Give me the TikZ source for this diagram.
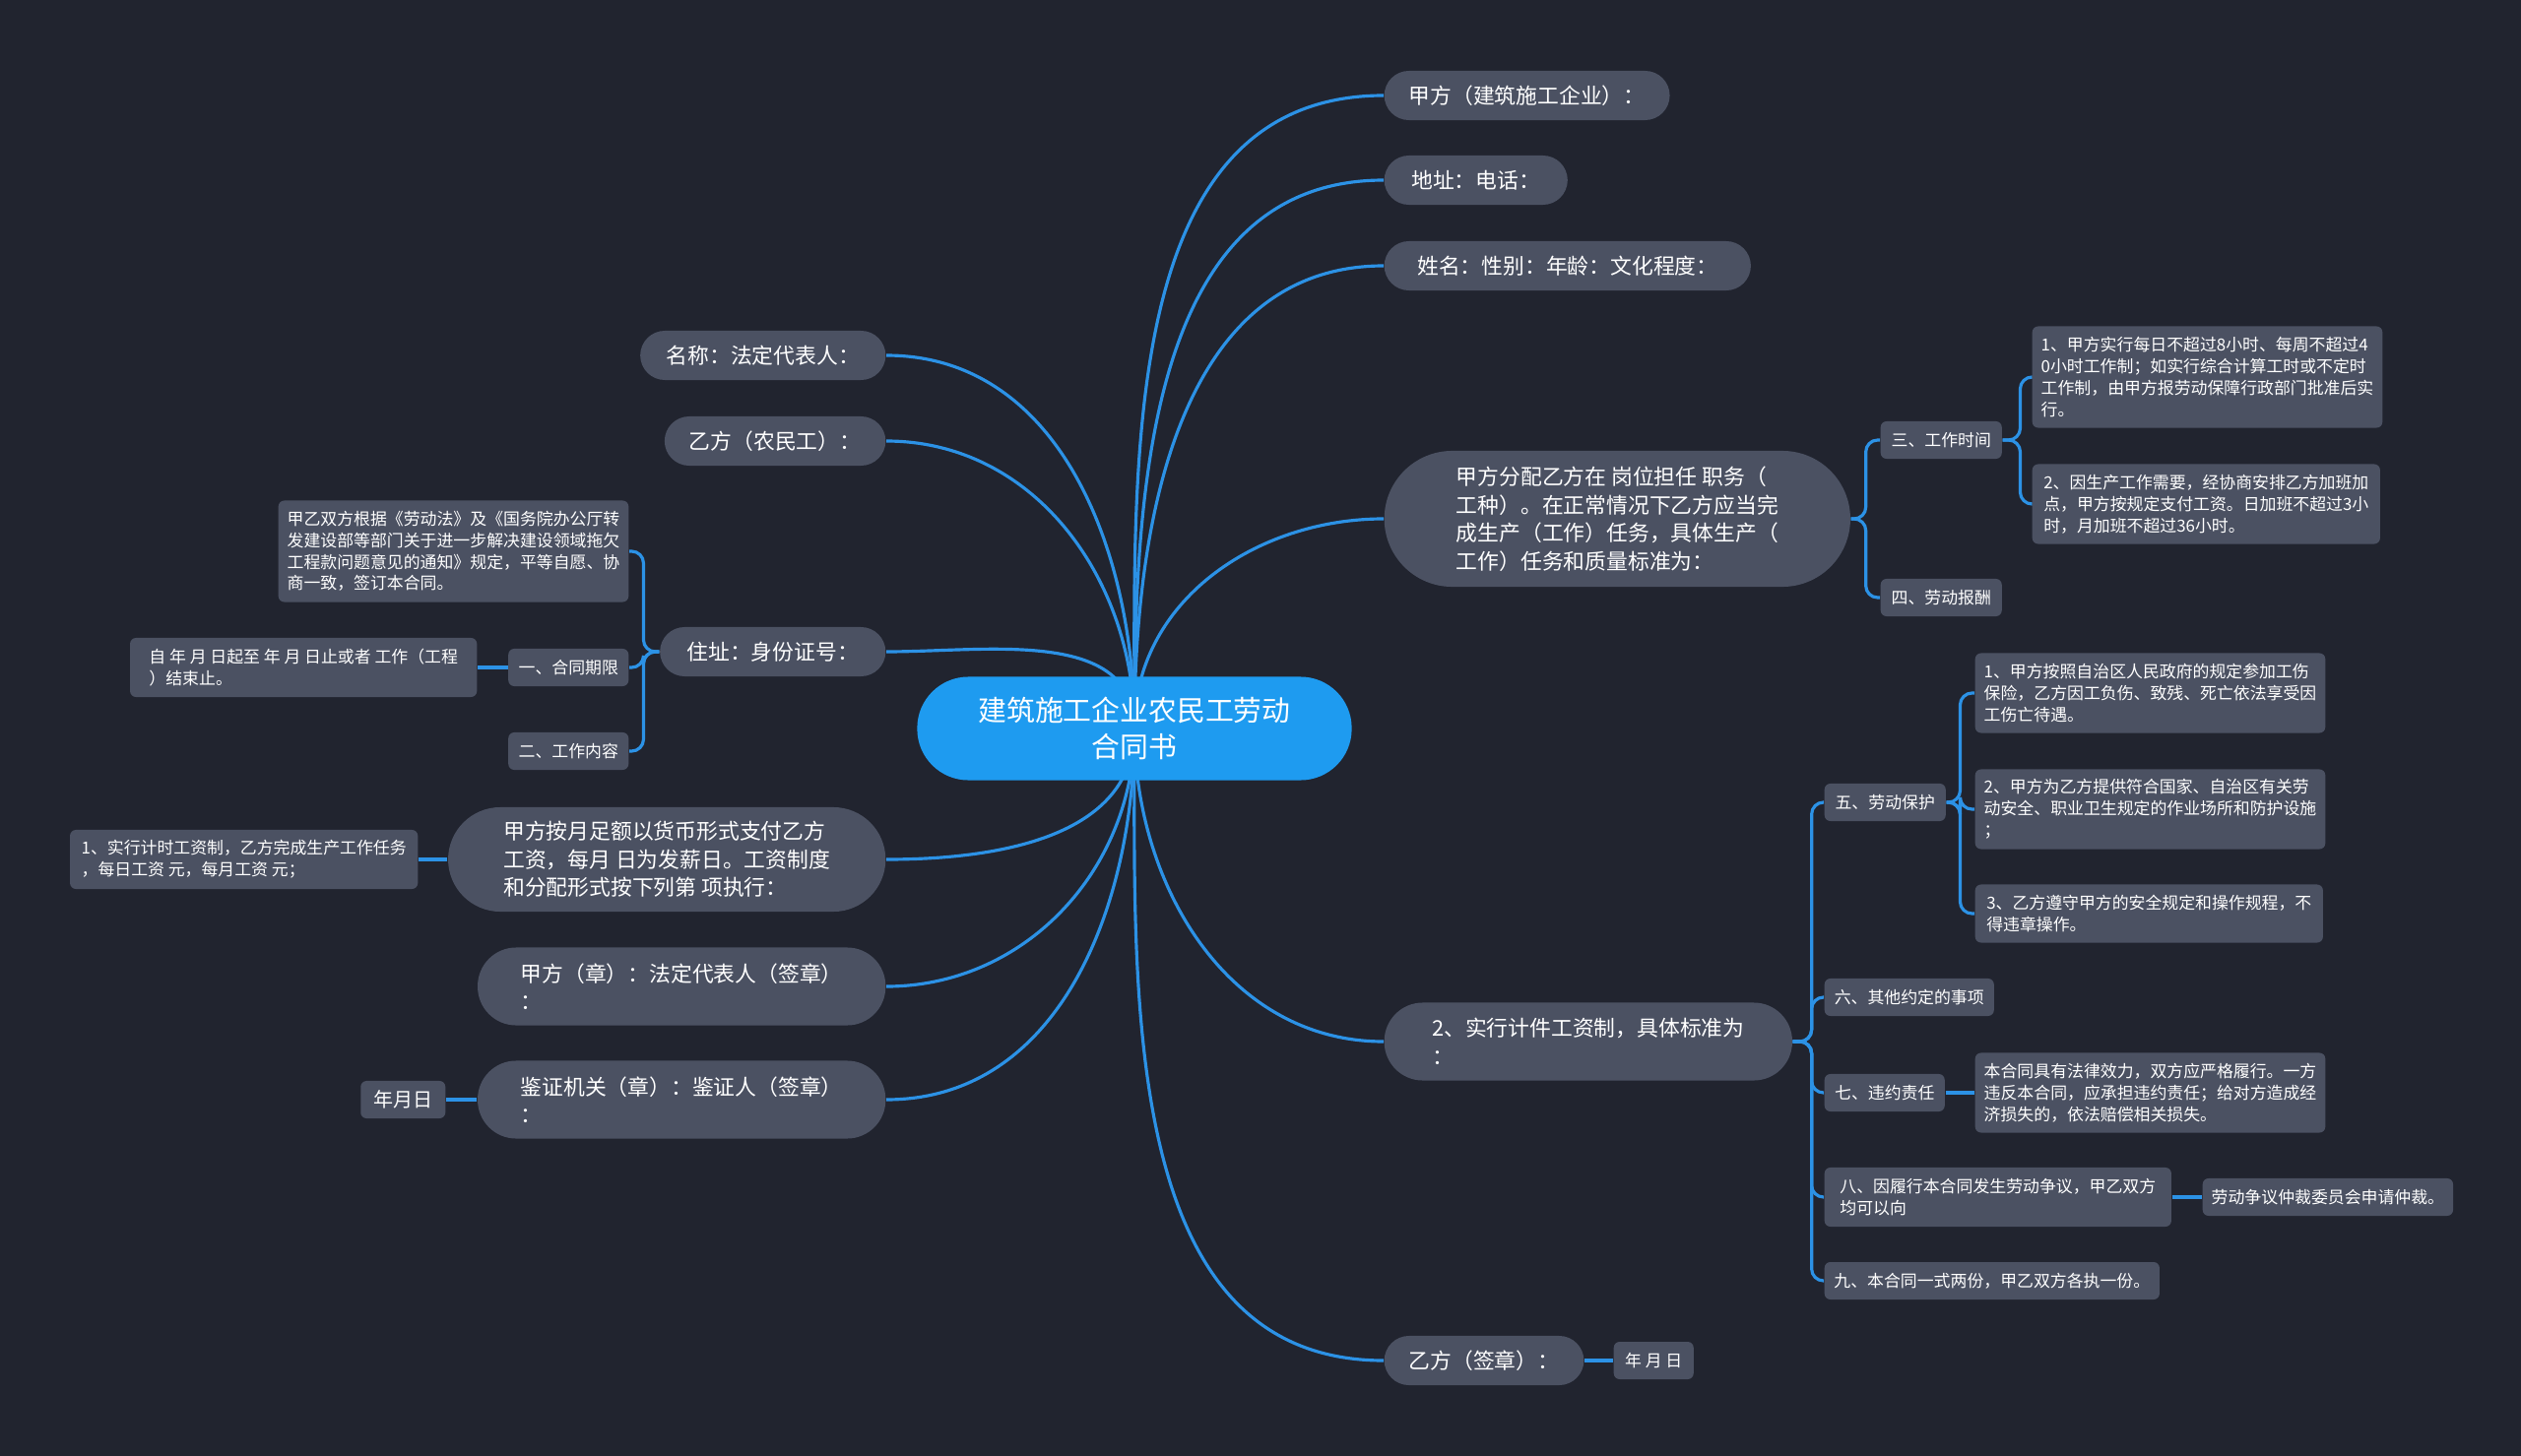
\documentclass[tikz,border=0pt]{standalone}
\usepackage{fontspec}
\usepackage{tikz}
\usetikzlibrary{
  positioning,
  backgrounds
}
\newfontfamily\cjk{Noto Sans CJK SC}
\definecolor{mapBG}{HTML}{21242F}
\definecolor{mapNode}{HTML}{4B5162}
\definecolor{mapRoot}{HTML}{1E9BF0}
\definecolor{mapLink}{HTML}{2C92E6}

\tikzset{
  rootbox/.style={fill=mapRoot, text=white, rounded corners=0.52cm, align=center,
    font=\cjk\fontsize{8.2}{10.4}\selectfont, minimum width=4.41cm, minimum height=1.05cm, inner sep=0pt},
  topicbox/.style={fill=mapNode, text=white, rounded corners=0.25cm, align=left,
    font=\cjk\fontsize{6.2}{8.1}\selectfont, minimum height=0.5cm, inner xsep=0.25cm, inner ysep=0pt},
  itembox/.style={fill=mapNode, text=white, rounded corners=0.06cm, align=left,
    font=\cjk\fontsize{4.8}{6.2}\selectfont, minimum height=0.38cm, inner xsep=0.09cm, inner ysep=0pt},
  maplink/.style={draw=mapLink, line width=0.9pt},
  mapbranch/.style={maplink, rounded corners=0.12cm}
}

\begin{document}
\begin{tikzpicture}[x=0.01cm, y=-0.01cm]
  \useasboundingbox (0,0) rectangle (2560,1479);
  \begin{pgfonlayer}{background}
    \fill[mapBG] (0,0) rectangle (2560,1479);
  \end{pgfonlayer}

  % root
  \node[rootbox] (root) at (1152,740) {建筑施工企业农民工劳动\\合同书};

  % right topics
  \node[topicbox, anchor=west, minimum width=2.87cm] (jia) at (1405,97) {甲方（建筑施工企业）：};
  \node[topicbox, anchor=west, minimum width=1.86cm] (addr) at (1405,183) {地址：电话：};
  \node[topicbox, anchor=west, minimum width=3.72cm] (info) at (1405,270) {姓名：性别：年龄：文化程度：};
  \node[topicbox, anchor=west, minimum width=4.73cm, minimum height=1.38cm, rounded corners=0.69cm] (post) at (1405,527)
    {甲方分配乙方在 岗位担任 职务（\\工种）。在正常情况下乙方应当完\\成生产（工作）任务，具体生产（\\工作）任务和质量标准为：};
  \node[topicbox, anchor=west, minimum width=4.14cm, minimum height=0.79cm, rounded corners=0.39cm] (piece) at (1405,1058)
    {2、实行计件工资制，具体标准为\\：};
  \node[topicbox, anchor=west, minimum width=2.01cm] (yisign) at (1405,1382) {乙方（签章）：};

  % left topics
  \node[topicbox, anchor=east, minimum width=2.49cm] (name) at (900,361) {名称：法定代表人：};
  \node[topicbox, anchor=east, minimum width=2.21cm] (yi) at (900,448) {乙方（农民工）：};
  \node[topicbox, anchor=east, minimum width=2.29cm] (home) at (900,662) {住址：身份证号：};
  \node[topicbox, anchor=east, minimum width=4.44cm, minimum height=1.06cm, rounded corners=0.53cm] (wage) at (900,873)
    {甲方按月足额以货币形式支付乙方\\工资，每月 日为发薪日。工资制度\\和分配形式按下列第 项执行：};
  \node[topicbox, anchor=east, minimum width=4.14cm, minimum height=0.79cm, rounded corners=0.39cm] (jiaseal) at (900,1002)
    {甲方（章）：法定代表人（签章）\\：};
  \node[topicbox, anchor=east, minimum width=4.14cm, minimum height=0.79cm, rounded corners=0.39cm] (verify) at (900,1117)
    {鉴证机关（章）：鉴证人（签章）\\：};

  % right items
  \node[itembox, anchor=west, minimum width=1.23cm] (hours) at (1909,447) {三、工作时间};
  \node[itembox, anchor=west, minimum width=1.23cm] (pay) at (1909,607) {四、劳动报酬};
  \node[itembox, anchor=west, minimum width=3.53cm, minimum height=1.03cm] (hoursA) at (2063,383)
    {1、甲方实行每日不超过8小时、每周不超过4\\0小时工作制；如实行综合计算工时或不定时\\工作制，由甲方报劳动保障行政部门批准后实\\行。};
  \node[itembox, anchor=west, minimum width=3.53cm, minimum height=0.81cm] (hoursB) at (2063,512)
    {2、因生产工作需要，经协商安排乙方加班加\\点，甲方按规定支付工资。日加班不超过3小\\时，月加班不超过36小时。};
  \node[itembox, anchor=west, minimum width=1.23cm] (safe) at (1852,815) {五、劳动保护};
  \node[itembox, anchor=west, minimum width=3.53cm, minimum height=0.81cm] (safeA) at (2005,704)
    {1、甲方按照自治区人民政府的规定参加工伤\\保险，乙方因工负伤、致残、死亡依法享受因\\工伤亡待遇。};
  \node[itembox, anchor=west, minimum width=3.53cm, minimum height=0.81cm] (safeB) at (2005,822)
    {2、甲方为乙方提供符合国家、自治区有关劳\\动安全、职业卫生规定的作业场所和防护设施\\；};
  \node[itembox, anchor=west, minimum width=3.53cm, minimum height=0.59cm] (safeC) at (2005,928)
    {3、乙方遵守甲方的安全规定和操作规程，不\\得违章操作。};
  \node[itembox, anchor=west, minimum width=1.72cm] (other) at (1852,1013) {六、其他约定的事项};
  \node[itembox, anchor=west, minimum width=1.22cm] (breach) at (1852,1110) {七、违约责任};
  \node[itembox, anchor=west, minimum width=3.53cm, minimum height=0.81cm] (breachA) at (2005,1110)
    {本合同具有法律效力，双方应严格履行。一方\\违反本合同，应承担违约责任；给对方造成经\\济损失的，依法赔偿相关损失。};
  \node[itembox, anchor=west, minimum width=3.52cm, minimum height=0.60cm] (dispute) at (1852,1216)
    {八、因履行本合同发生劳动争议，甲乙双方\\均可以向};
  \node[itembox, anchor=west, minimum width=2.51cm] (disputeA) at (2236,1216) {劳动争议仲裁委员会申请仲裁。};
  \node[itembox, anchor=west, minimum width=3.40cm] (copies) at (1852,1301) {九、本合同一式两份，甲乙双方各执一份。};
  \node[itembox, anchor=west, minimum width=0.81cm] (yidate) at (1638,1382) {年 月 日};

  % left items
  \node[itembox, anchor=east, minimum width=3.52cm, minimum height=1.03cm] (law) at (639,560)
    {甲乙双方根据《劳动法》及《国务院办公厅转\\发建设部等部门关于进一步解决建设领域拖欠\\工程款问题意见的通知》规定，平等自愿、协\\商一致，签订本合同。};
  \node[itembox, anchor=east, minimum width=1.22cm] (term) at (639,678) {一、合同期限};
  \node[itembox, anchor=east, minimum width=3.52cm, minimum height=0.60cm] (termA) at (485,678)
    {自 年 月 日起至 年 月 日止或者 工作（工程\\）结束止。};
  \node[itembox, anchor=east, minimum width=1.22cm] (duty) at (639,763) {二、工作内容};
  \node[itembox, anchor=east, minimum width=3.53cm, minimum height=0.60cm] (hourly) at (425,873)
    {1、实行计时工资制，乙方完成生产工作任务\\，每日工资 元，每月工资 元；};
  \node[itembox, anchor=east, minimum width=0.86cm, font=\cjk\fontsize{5.7}{7}\selectfont] (verdate) at (453,1117) {年月日};

  % connectors
  \begin{pgfonlayer}{background}
    \foreach \n in {jia,addr,info,post} \draw[maplink] (root.center) to[out=90,in=180] (\n.west);
    \foreach \n in {piece,yisign} \draw[maplink] (root.center) to[out=-90,in=180] (\n.west);
    \foreach \n in {name,yi,home} \draw[maplink] (root.center) to[out=90,in=0] (\n.east);
    \foreach \n in {wage,jiaseal,verify} \draw[maplink] (root.center) to[out=-90,in=0] (\n.east);
    \foreach \n in {hours,pay} \draw[mapbranch] (post.east) -- ++(15,0) |- (\n.west);
    \foreach \n in {hoursA,hoursB} \draw[mapbranch] (hours.east) -- ++(18,0) |- (\n.west);
    \foreach \n in {safe,other,breach,dispute,copies} \draw[mapbranch] (piece.east) -- ++(19,0) |- (\n.west);
    \foreach \n in {safeA,safeB,safeC} \draw[mapbranch] (safe.east) -- ++(14,0) |- (\n.west);
    \draw[maplink] (breach.east) -- (breachA.west);
    \draw[maplink] (dispute.east) -- (disputeA.west);
    \draw[maplink] (yisign.east) -- (yidate.west);
    \foreach \n in {law,term,duty} \draw[mapbranch] (home.west) -- ++(-16,0) |- (\n.east);
    \draw[maplink] (term.west) -- (termA.east);
    \draw[maplink] (wage.west) -- (hourly.east);
    \draw[maplink] (verify.west) -- (verdate.east);
  \end{pgfonlayer}
\end{tikzpicture}
\end{document}
